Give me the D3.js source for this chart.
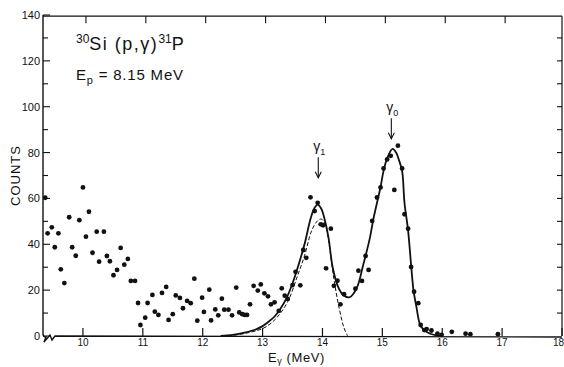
<!DOCTYPE html>
<html>
<head>
<meta charset="utf-8">
<script src="https://cdn.jsdelivr.net/npm/d3@7"></script>
<style>
  body { margin: 0; background: #fff; }
  svg { display: block; }
  text { font-family: "Liberation Sans", Arial, sans-serif; fill: #111; }
</style>
</head>
<body>
<div id="chart"></div>
<script>
// measured spectrum (E in MeV, counts)
const energy = [
  9.37, 9.41, 9.48, 9.53, 9.59, 9.63, 9.69, 9.77, 9.82, 9.88, 9.94, 10.0, 10.05, 10.1, 10.16,
  10.23, 10.27, 10.35, 10.4, 10.45, 10.51, 10.57, 10.63, 10.69, 10.75, 10.8, 10.87, 10.92, 10.96,
  11.04, 11.08, 11.16, 11.2, 11.26, 11.32, 11.39, 11.43, 11.5, 11.55, 11.62, 11.67, 11.74, 11.8,
  11.86, 11.91, 11.99, 12.02, 12.11, 12.14, 12.21, 12.26, 12.32, 12.36, 12.43, 12.49, 12.56,
  12.61, 12.66, 12.7, 12.74, 12.79, 12.85, 12.92, 12.97, 13.03, 13.09, 13.14, 13.2, 13.27, 13.32,
  13.37, 13.42, 13.5, 13.55, 13.63, 13.68, 13.73, 13.8, 13.87, 13.92, 13.97, 14.01, 14.06, 14.14,
  14.19, 14.25, 14.3, 14.36, 14.55, 14.6, 14.66, 14.72, 14.77, 14.83, 14.91, 14.97, 15.02, 15.08,
  15.14, 15.2, 15.26, 15.33, 15.37, 15.43, 15.48, 15.53, 15.6, 15.64, 15.7, 15.74, 15.82, 15.92,
  15.99, 16.16, 16.39, 16.47, 16.93
];
const counts = [
  60.3, 44.8, 47.4, 38.7, 44.8, 29.1, 23.1, 51.8, 38.7, 35, 50.5, 64.8, 43.3, 54.2, 36.3,
  45.5, 32.4, 45.5, 34.9, 32.6, 26.5, 28.8, 38.4, 31.1, 33.6, 24, 24, 14.4, 4.8,
  8, 14.4, 17.9, 10.6, 9.2, 18.8, 21.4, 7, 9.5, 17.7, 16.6, 12.1, 15.3, 14.3,
  25, 6.7, 16.7, 10.5, 20.2, 6.8, 11.6, 9, 16.3, 11.5, 11.5, 9, 21.1,
  10.3, 9.5, 9.2, 9.2, 13.8, 21.9, 19.8, 22.5, 18.6, 17.3, 13.8, 14.7, 11, 20.8,
  17.6, 16.1, 22.2, 28, 22.1, 37.5, 34.1, 60.5, 54.5, 58.1, 48.7, 48.3, 29.5, 46.8,
  21.9, 24.1, 13.8, 18.2, 20.6, 28.5, 24, 34.9, 28.8, 50.2, 60.4, 64.8, 73.1, 77,
  78.6, 63.7, 83, 73.1, 53.1, 46.8, 30.1, 19.3, 14.3, 4.8, 2.6, 3, 2.4, 1,
  0.5, 1.8, 1, 0.8, 0.8
];

// total fitted line shape
const fitE = [12.3, 12.5, 12.7, 12.9, 13.0, 13.1, 13.2, 13.3, 13.4, 13.5, 13.6, 13.7, 13.8, 13.86,
  13.92, 13.98, 14.04, 14.1, 14.17, 14.26, 14.34, 14.45, 14.57, 14.68, 14.79, 14.85, 14.91, 14.97,
  15.02, 15.08, 15.17, 15.23, 15.28, 15.33, 15.37, 15.43, 15.48, 15.52, 15.57, 15.63, 15.7, 15.8,
  15.9, 16.0];
const fitC = [0, 0.5, 1.5, 3, 4.3, 6.2, 8.5, 12, 16.5, 23, 31, 40, 51, 55.5,
  57.3, 55.5, 50.5, 43, 30, 21.5, 18, 16.9, 20.8, 31, 42.6, 51, 58, 65,
  72, 77.5, 81.6, 80, 76.5, 72, 58, 46, 31, 20, 12.5, 5, 2.5, 1,
  0.3, 0];

// gamma-1 component alone (dashed)
const g1E = [12.4, 12.7, 13.0, 13.2, 13.4, 13.56, 13.68, 13.8, 13.9, 13.96, 14.02, 14.08, 14.17, 14.26, 14.34, 14.4];
const g1C = [0, 1.2, 3.5, 7.5, 15, 26, 35, 46, 50.3, 51, 49, 42, 25, 12, 3.5, 0];

const xTicks = [10, 11, 12, 13, 14, 15, 16, 17, 18];
const yTicks = [0, 20, 40, 60, 80, 100, 120, 140];
const peakSub = ["1", "0"];
const peakE = [13.93, 15.15];
const peakArrowTop = [78, 95];
const peakArrowTip = [69, 86];

const W = 564, H = 367;
const svg = d3.select('#chart').append('svg')
  .attr('width', W)
  .attr('height', H);

const x = d3.scaleLinear().domain([9.333, 18]).range([43, 562]);
const y = d3.scaleLinear().domain([0, 140]).range([336, 15]);

const ink = '#111';

// frame: left, top, right axes
svg.append('line')
  .attr('x1', x(9.333)).attr('x2', x(9.333))
  .attr('y1', y(140)).attr('y2', y(0.8))
  .attr('stroke', ink).attr('stroke-width', 1.4);
svg.append('line')
  .attr('x1', x(9.333)).attr('x2', x(18))
  .attr('y1', y(139.5)).attr('y2', y(139.5))
  .attr('stroke', ink).attr('stroke-width', 1.4);
svg.append('line')
  .attr('x1', x(18)).attr('x2', x(18))
  .attr('y1', y(139.5)).attr('y2', y(0))
  .attr('stroke', ink).attr('stroke-width', 1.2);

// bottom axis with break at the left end
const x0 = x(9.333), yb = y(0);
svg.append('path')
  .attr('d', `M${x0},${yb - 2} Q${x0},${yb + 1} ${x0 + 3},${yb + 1} L${x0 + 1},${yb + 6} L${x0 + 7},${yb - 1} L${x0 + 9},${yb + 4} L${x0 + 12},${yb} L${x(18)},${yb + 1}`)
  .attr('fill', 'none').attr('stroke', ink).attr('stroke-width', 1.4);

// bottom ticks (inward) + labels
const bottom = svg.append('g');
xTicks.forEach(t => {
  bottom.append('line')
    .attr('x1', x(t)).attr('x2', x(t))
    .attr('y1', yb).attr('y2', yb - 8)
    .attr('stroke', ink).attr('stroke-width', 1.2);
  bottom.append('text')
    .attr('x', t === 18 ? W : x(t)).attr('y', yb + 10)
    .attr('text-anchor', t === 18 ? 'end' : 'middle')
    .attr('font-size', 10)
    .text(t);
});

// top ticks (inward)
xTicks.forEach(t => {
  svg.append('line')
    .attr('x1', x(t) + 3).attr('x2', x(t) + 3)
    .attr('y1', y(139.5)).attr('y2', y(139.5) + 7)
    .attr('stroke', ink).attr('stroke-width', 1.1);
});

// left ticks: major every 20, minor every 10
d3.range(0, 141, 10).forEach(v => {
  const major = v % 20 === 0;
  svg.append('line')
    .attr('x1', x0).attr('x2', x0 + (major ? 7 : 5))
    .attr('y1', y(v)).attr('y2', y(v))
    .attr('stroke', ink).attr('stroke-width', 1.1);
});
yTicks.forEach(v => {
  svg.append('text')
    .attr('x', x0 - 3).attr('y', y(v) + 4)
    .attr('text-anchor', 'end')
    .attr('font-size', 11)
    .text(v);
});

// right ticks every 10
d3.range(10, 140, 10).forEach(v => {
  svg.append('line')
    .attr('x1', x(18)).attr('x2', x(18) - 5)
    .attr('y1', y(v)).attr('y2', y(v))
    .attr('stroke', ink).attr('stroke-width', 1.1);
});

// axis titles
svg.append('text')
  .attr('transform', `translate(20,${y(70)}) rotate(-90)`)
  .attr('text-anchor', 'middle')
  .attr('font-size', 13)
  .attr('letter-spacing', 1)
  .text('COUNTS');

const xl = svg.append('text')
  .attr('x', 268).attr('y', 362)
  .attr('font-size', 13)
  .attr('letter-spacing', 0.6);
xl.append('tspan').text('E');
xl.append('tspan').attr('dy', 2).attr('font-size', 9).text('γ');
xl.append('tspan').attr('dy', -2).text(' (MeV)');

// reaction label
const t1 = svg.append('text').attr('x', 76).attr('y', 50)
  .attr('font-size', 18).attr('letter-spacing', 1.5);
t1.append('tspan').attr('dy', -7).attr('font-size', 12).attr('letter-spacing', 0).text('30');
t1.append('tspan').attr('dy', 7).text('Si (p,γ)');
t1.append('tspan').attr('dy', -7).attr('font-size', 12).attr('letter-spacing', 0).text('31');
t1.append('tspan').attr('dy', 7).text('P');

const t2 = svg.append('text').attr('x', 76).attr('y', 80)
  .attr('font-size', 15).attr('letter-spacing', 0.8);
t2.append('tspan').text('E');
t2.append('tspan').attr('dy', 4).attr('font-size', 11).text('p');
t2.append('tspan').attr('dy', -4).text(' = 8.15 MeV');

// fitted curves
const line = d3.line()
  .x(d => x(d[0]))
  .y(d => y(d[1]))
  .curve(d3.curveCatmullRom.alpha(0.5));

svg.append('path')
  .datum(g1E.map((e, i) => [e + 0.02, g1C[i]]))
  .attr('fill', 'none')
  .attr('stroke', ink)
  .attr('stroke-width', 1)
  .attr('stroke-dasharray', '4,2')
  .attr('d', line);

svg.append('path')
  .datum(fitE.map((e, i) => [e, fitC[i]]))
  .attr('fill', 'none')
  .attr('stroke', ink)
  .attr('stroke-width', 1.8)
  .attr('stroke-linejoin', 'round')
  .attr('d', line);

// data points
svg.append('g')
  .selectAll('circle')
  .data(energy.map((e, i) => [e, counts[i]]))
  .join('circle')
  .attr('cx', d => x(d[0]))
  .attr('cy', d => y(d[1]))
  .attr('r', 2.4)
  .attr('fill', ink);

// peak markers
peakE.forEach((e, i) => {
  const px = x(e);
  const top = y(peakArrowTop[i]), tip = y(peakArrowTip[i]);
  svg.append('line')
    .attr('x1', px).attr('x2', px)
    .attr('y1', top).attr('y2', tip)
    .attr('stroke', ink).attr('stroke-width', 1.1);
  svg.append('path')
    .attr('d', `M${px - 3},${tip - 6} L${px},${tip} L${px + 3},${tip - 6}`)
    .attr('fill', 'none').attr('stroke', ink).attr('stroke-width', 1.1);
  const lbl = svg.append('text')
    .attr('x', px - 5).attr('y', top - 6)
    .attr('font-size', 14);
  lbl.append('tspan').text('γ');
  lbl.append('tspan').attr('dy', 4).attr('font-size', 9).text(peakSub[i]);
});
</script>
</body>
</html>
